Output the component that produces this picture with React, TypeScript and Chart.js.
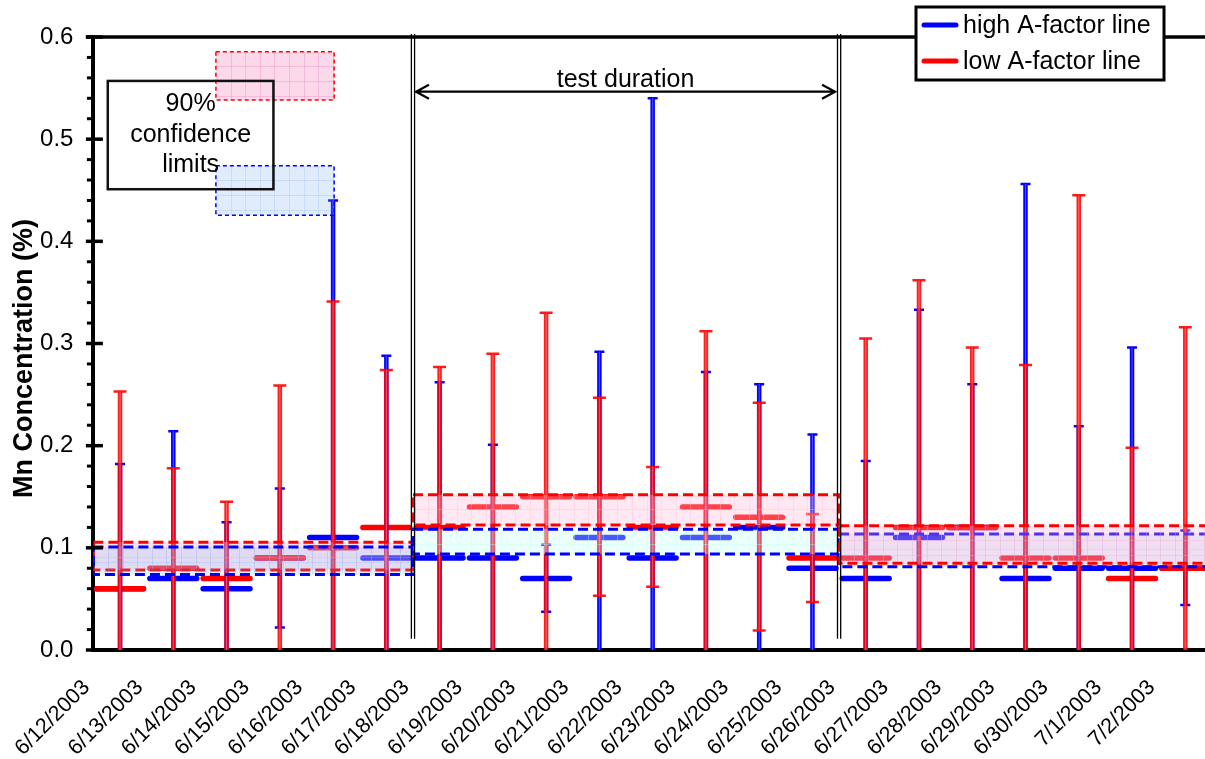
import React, { useEffect, useRef } from 'react';
import { Chart, registerables } from 'chart.js';

Chart.register(...registerables);

const FONT = "'Liberation Sans', Arial, Helvetica, sans-serif";

// ---------- data ----------
const dates = [
  '6/12/2003', '6/13/2003', '6/14/2003', '6/15/2003', '6/16/2003', '6/17/2003', '6/18/2003',
  '6/19/2003', '6/20/2003', '6/21/2003', '6/22/2003', '6/23/2003', '6/24/2003', '6/25/2003',
  '6/26/2003', '6/27/2003', '6/28/2003', '6/29/2003', '6/30/2003', '7/1/2003', '7/2/2003',
];

const blueMean = [0.06, 0.07, 0.06, 0.09, 0.11, 0.09, 0.09, 0.09, 0.07, 0.11, 0.09, 0.11, 0.12, 0.08, 0.07, 0.11, 0.12, 0.07, 0.08, 0.08, 0.08];
const redMean = [0.06, 0.08, 0.07, 0.09, 0.10, 0.12, 0.12, 0.14, 0.15, 0.15, 0.12, 0.14, 0.13, 0.09, 0.09, 0.12, 0.12, 0.09, 0.09, 0.07, 0.08];

const blueHigh = [0.182, 0.214, 0.125, 0.158, 0.440, 0.288, 0.262, 0.201, 0.103, 0.292, 0.540, 0.272, 0.260, 0.211, 0.185, 0.333, 0.260, 0.456, 0.219, 0.296, 0.117];
const blueLow: (number | null)[] = [null, null, null, 0.022, null, null, null, null, 0.0375, null, null, null, null, null, null, null, null, null, null, null, 0.044];
const redHigh = [0.253, 0.178, 0.145, 0.259, 0.341, 0.274, 0.277, 0.290, 0.330, 0.247, 0.179, 0.312, 0.242, 0.133, 0.305, 0.362, 0.296, 0.279, 0.445, 0.198, 0.316];
const redLow: (number | null)[] = [null, null, null, null, null, null, null, null, null, 0.053, 0.062, null, 0.019, 0.047, null, null, null, null, null, null, null];

// 90% confidence limits per period (before / during / after test)
const sectionStart = [0, 6, 14];
const sectionEnd = [6, 14, 21];
const blueLimLow = [0.074, 0.094, 0.0816];
const blueLimHigh = [0.1008, 0.1182, 0.1135];
const redLimLow = [0.0783, 0.1223, 0.0848];
const redLimHigh = [0.1055, 0.152, 0.1217];

const yTickValues = [0, 0.1, 0.2, 0.3, 0.4, 0.5, 0.6];
const yTickLabels = ['0.0', '0.1', '0.2', '0.3', '0.4', '0.5', '0.6'];

const legendLabels = ['high A-factor line', 'low A-factor line'];
const ciText = ['90%', 'confidence', 'limits'];
const testLabel = 'test duration';

// ---------- layout / style constants ----------
const X_MAX = 20.87;
const BELOW = -0.05;
const dividerX = [6, 14];
const dividerBottom = 0.011;
const arrowY = 0.5465;
const ciRedSample = { x0: 2.3, x1: 4.52, y0: 0.5383, y1: 0.5856 };
const ciBlueSample = { x0: 2.3, x1: 4.52, y0: 0.4255, y1: 0.474 };
const ciTextBox = { x0: 0.27, x1: 3.38, y0: 0.451, y1: 0.557 };
const BLUE = '#0000ff';
const RED = '#ff0000';
const redFirst = [true, false, false];
const blueFill = ['rgba(100,180,255,0.2)', 'rgba(200,255,255,0.35)', 'rgba(100,180,255,0.15)'];
const redFill = ['rgba(255,170,210,0.3)', 'rgba(255,190,215,0.35)', 'rgba(255,170,210,0.3)'];

type Pt = { x: number; y: number | null };

function meanPoints(means: number[]): Pt[] {
  const pts: Pt[] = [];
  means.forEach((m, i) => {
    pts.push({ x: i + 0.06, y: m }, { x: i + 0.94, y: m }, { x: i + 0.95, y: null });
  });
  return pts;
}

function barPoints(high: number[], low: (number | null)[]): Pt[] {
  const pts: Pt[] = [];
  high.forEach((h, i) => {
    const l = low[i];
    pts.push({ x: i + 0.5, y: l == null ? BELOW : l }, { x: i + 0.5, y: h }, { x: i + 0.5, y: null });
  });
  return pts;
}

function capPoints(high: number[], low: (number | null)[], half: number): Pt[] {
  const pts: Pt[] = [];
  high.forEach((h, i) => {
    pts.push({ x: i + 0.5 - half, y: h }, { x: i + 0.5 + half, y: h }, { x: i + 0.5 + half, y: null });
    const l = low[i];
    if (l != null) {
      pts.push({ x: i + 0.5 - half, y: l }, { x: i + 0.5 + half, y: l }, { x: i + 0.5 + half, y: null });
    }
  });
  return pts;
}

function lineDs(data: Pt[], color: string, width: number, order: number, cap: string = 'butt') {
  return {
    type: 'line',
    data,
    borderColor: color,
    backgroundColor: color,
    borderWidth: width,
    borderCapStyle: cap,
    pointRadius: 0,
    pointHoverRadius: 0,
    fill: false,
    tension: 0,
    spanGaps: false,
    clip: 0,
    order,
  };
}

function texture(ctx: CanvasRenderingContext2D, x0: number, y0: number, x1: number, y1: number, color: string) {
  const step = 14.6;
  ctx.save();
  ctx.strokeStyle = color;
  ctx.lineWidth = 1;
  ctx.setLineDash([]);
  ctx.beginPath();
  for (let x = x0 + step; x < x1 - 1; x += step) {
    ctx.moveTo(Math.round(x) + 0.5, y0);
    ctx.lineTo(Math.round(x) + 0.5, y1);
  }
  for (let y = y0 + step; y < y1 - 1; y += step) {
    ctx.moveTo(x0, Math.round(y) + 0.5);
    ctx.lineTo(x1, Math.round(y) + 0.5);
  }
  ctx.stroke();
  ctx.restore();
}

const overlayPlugin = {
  id: 'overlay',
  afterDatasetsDraw(chart: any) {
    const { ctx, chartArea: ca, scales } = chart;
    const X = (v: number) => scales.x.getPixelForValue(v);
    const Y = (v: number) => scales.y.getPixelForValue(v);

    // confidence bands
    ctx.save();
    ctx.beginPath();
    ctx.rect(ca.left, ca.top, ca.right - ca.left, ca.bottom - ca.top);
    ctx.clip();
    const drawBand = (s: number, which: string) => {
      const lo = which === 'red' ? redLimLow[s] : blueLimLow[s];
      const hi = which === 'red' ? redLimHigh[s] : blueLimHigh[s];
      const fill = which === 'red' ? redFill[s] : blueFill[s];
      const stroke = which === 'red' ? RED : BLUE;
      const x0 = X(sectionStart[s]);
      const x1 = X(sectionEnd[s]);
      const y0 = Y(hi);
      const y1 = Y(lo);
      ctx.fillStyle = fill;
      ctx.fillRect(x0, y0, x1 - x0, y1 - y0);
      texture(ctx, x0, y0, x1, y1, fill);
      ctx.setLineDash([10, 5]);
      ctx.lineWidth = 3;
      ctx.strokeStyle = stroke;
      ctx.strokeRect(x0, y0, x1 - x0, y1 - y0);
      ctx.setLineDash([]);
    };
    sectionStart.forEach((_, s) => {
      const seq = redFirst[s] ? ['red', 'blue'] : ['blue', 'red'];
      seq.forEach((w) => drawBand(s, w));
    });
    ctx.restore();

    // period dividers (double lines)
    ctx.save();
    ctx.strokeStyle = '#000';
    ctx.lineWidth = 1.3;
    dividerX.forEach((d) => {
      const px = X(d);
      [-1.6, 1.6].forEach((off) => {
        ctx.beginPath();
        ctx.moveTo(px + off, Y(0.6) - 3);
        ctx.lineTo(px + off, Y(dividerBottom));
        ctx.stroke();
      });
    });

    // test duration arrow
    const ay = Y(arrowY);
    const ax0 = X(dividerX[0]) + 3;
    const ax1 = X(dividerX[1]) - 4;
    ctx.lineWidth = 2.2;
    ctx.lineCap = 'butt';
    ctx.beginPath();
    ctx.moveTo(ax0, ay);
    ctx.lineTo(ax1, ay);
    ctx.moveTo(ax0 + 13, ay - 7);
    ctx.lineTo(ax0, ay);
    ctx.lineTo(ax0 + 13, ay + 7);
    ctx.moveTo(ax1 - 13, ay - 7);
    ctx.lineTo(ax1, ay);
    ctx.lineTo(ax1 - 13, ay + 7);
    ctx.stroke();
    ctx.fillStyle = '#000';
    ctx.font = `25px ${FONT}`;
    ctx.textAlign = 'center';
    ctx.textBaseline = 'alphabetic';
    ctx.fillText(testLabel, (ax0 + ax1) / 2, ay - 5);

    // confidence-limit key
    const sample = (b: any, fill: string, stroke: string) => {
      const x0 = X(b.x0), x1 = X(b.x1), y0 = Y(b.y1), y1 = Y(b.y0);
      ctx.fillStyle = fill;
      ctx.fillRect(x0, y0, x1 - x0, y1 - y0);
      texture(ctx, x0, y0, x1, y1, fill);
      ctx.setLineDash([4, 3]);
      ctx.lineWidth = 1.5;
      ctx.strokeStyle = stroke;
      ctx.strokeRect(x0, y0, x1 - x0, y1 - y0);
      ctx.setLineDash([]);
    };
    sample(ciRedSample, 'rgba(240,100,170,0.25)', RED);
    sample(ciBlueSample, 'rgba(100,160,240,0.2)', BLUE);
    const bx0 = X(ciTextBox.x0), bx1 = X(ciTextBox.x1), by0 = Y(ciTextBox.y1), by1 = Y(ciTextBox.y0);
    ctx.strokeStyle = '#111';
    ctx.lineWidth = 2.5;
    ctx.strokeRect(bx0, by0, bx1 - bx0, by1 - by0);
    ctx.fillStyle = '#000';
    ctx.font = `25px ${FONT}`;
    ctx.textAlign = 'center';
    ctx.textBaseline = 'middle';
    const cx = (bx0 + bx1) / 2;
    const cy = (by0 + by1) / 2;
    ciText.forEach((t, i) => ctx.fillText(t, cx, cy + (i - 1) * 30.5));
    ctx.restore();
  },
  afterDraw(chart: any) {
    const { ctx, chartArea: ca, scales } = chart;
    const Y = (v: number) => scales.y.getPixelForValue(v);
    ctx.save();
    ctx.strokeStyle = '#000';
    // top frame line
    ctx.lineWidth = 3.5;
    ctx.beginPath();
    ctx.moveTo(ca.left - 7.5, ca.top);
    ctx.lineTo(ca.right, ca.top);
    ctx.stroke();
    // minor ticks
    ctx.lineWidth = 3;
    for (let k = 1; k < 30; k++) {
      if (k % 5 === 0) continue;
      const py = Y(k * 0.02);
      ctx.beginPath();
      ctx.moveTo(ca.left - 6.5, py);
      ctx.lineTo(ca.left, py);
      ctx.stroke();
    }
    // major ticks
    ctx.lineWidth = 3.5;
    yTickValues.forEach((v) => {
      const py = Y(v);
      ctx.beginPath();
      ctx.moveTo(ca.left - 7.5, py);
      ctx.lineTo(ca.left + 9.5, py);
      ctx.stroke();
    });

    // legend
    const lx = ca.right - 289;
    const ly = 7;
    ctx.fillStyle = '#fff';
    ctx.fillRect(lx, ly, 248, 73);
    ctx.lineWidth = 3;
    ctx.strokeStyle = '#000';
    ctx.strokeRect(lx, ly, 248, 73);
    const cols = [BLUE, RED];
    legendLabels.forEach((lab, i) => {
      const yy = ly + 18 + i * 36;
      ctx.strokeStyle = cols[i];
      ctx.lineWidth = 5;
      ctx.lineCap = 'round';
      ctx.beginPath();
      ctx.moveTo(lx + 8, yy);
      ctx.lineTo(lx + 40, yy);
      ctx.stroke();
      ctx.fillStyle = '#000';
      ctx.font = `25px ${FONT}`;
      ctx.textAlign = 'left';
      ctx.textBaseline = 'middle';
      ctx.fillText(lab, lx + 47, yy + 1.5);
    });
    ctx.restore();
  },
};

export default function App() {
  const ref = useRef<HTMLCanvasElement>(null);
  useEffect(() => {
    if (!ref.current) return;
    const datasets: any[] = [
      lineDs(barPoints(redHigh, redLow), 'rgba(255,255,255,0.3)', 1.1, 0),
      lineDs(barPoints(redHigh, redLow), 'rgba(255,0,0,0.88)', 4.5, 1),
      lineDs(capPoints(redHigh, redLow, 0.122), 'rgba(255,0,0,0.9)', 2.5, 1),
      lineDs(barPoints(blueHigh, blueLow), 'rgba(255,255,255,0.3)', 1.1, 2),
      lineDs(barPoints(blueHigh, blueLow), BLUE, 4.5, 3),
      lineDs(capPoints(blueHigh, blueLow, 0.094), BLUE, 2.5, 3),
      lineDs(meanPoints(redMean), RED, 5.5, 4, 'round'),
      lineDs(meanPoints(blueMean), BLUE, 5.5, 5, 'round'),
    ];
    const chart = new Chart(ref.current, {
      type: 'line',
      data: { datasets },
      options: {
        responsive: false,
        animation: false,
        events: [],
        layout: { padding: { top: 37, left: 0, right: 0, bottom: 0 } },
        plugins: { legend: { display: false }, tooltip: { enabled: false } },
        scales: {
          x: {
            type: 'linear',
            min: 0,
            max: X_MAX,
            afterBuildTicks: (axis: any) => {
              axis.ticks = dates.map((_, i) => ({ value: i }));
            },
            afterFit: (axis: any) => {
              axis.height = 109;
            },
            ticks: {
              autoSkip: false,
              maxRotation: 45,
              minRotation: 45,
              padding: 25,
              labelOffset: -7,
              color: '#000',
              font: { family: FONT, size: 21.5 },
              callback: (v: any) => dates[v] ?? '',
            },
            grid: { display: false, drawTicks: false },
            border: { display: true, color: '#000', width: 4 },
          },
          y: {
            type: 'linear',
            min: 0,
            max: 0.6,
            afterBuildTicks: (axis: any) => {
              axis.ticks = yTickValues.map((v) => ({ value: v }));
            },
            afterFit: (axis: any) => {
              axis.width = 93.4;
            },
            ticks: {
              padding: 20,
              color: '#000',
              font: { family: FONT, size: 24 },
              callback: (_v: any, idx: number) => yTickLabels[idx],
            },
            grid: { display: false, drawTicks: false },
            border: { display: true, color: '#000', width: 4 },
            title: {
              display: true,
              text: 'Mn Concentration (%)    ',
              color: '#000',
              font: { family: FONT, size: 27, weight: 'bold' },
              padding: { top: 8, bottom: 0 },
            },
          },
        },
      } as any,
      plugins: [overlayPlugin as any],
    } as any);
    return () => chart.destroy();
  }, []);

  return (
    <div style={{ position: 'fixed', left: 0, top: 0, width: 1205, height: 759, background: '#fff' }}>
      <canvas ref={ref} width={1205} height={759} style={{ display: 'block', width: 1205, height: 759 }} />
    </div>
  );
}
